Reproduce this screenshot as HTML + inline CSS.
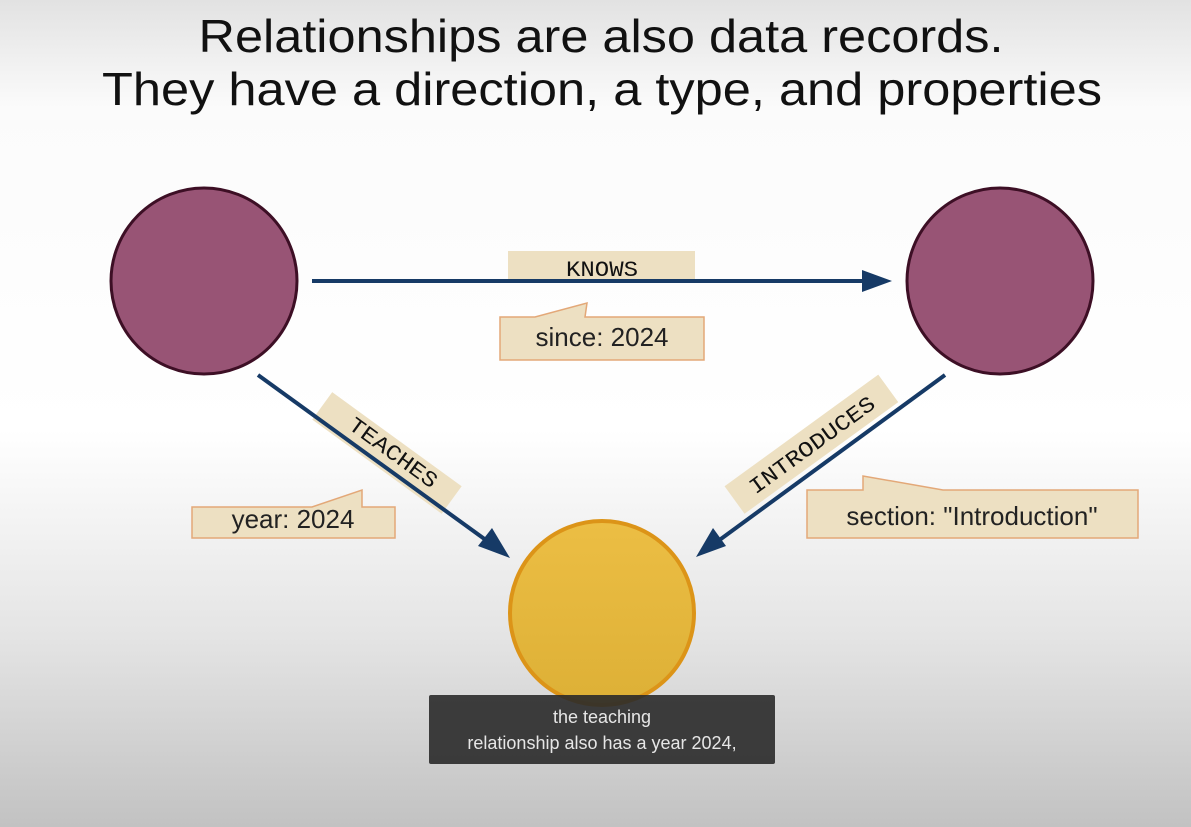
<!DOCTYPE html>
<html><head><meta charset="utf-8"><style>
html,body{margin:0;padding:0;width:1191px;height:827px;overflow:hidden}
</style></head><body>
<svg width="1191" height="827" viewBox="0 0 1191 827" xmlns="http://www.w3.org/2000/svg">
<defs>
<linearGradient id="bg" x1="0" y1="0" x2="0" y2="1">
<stop offset="0" stop-color="#e2e2e2"/>
<stop offset="0.13" stop-color="#fbfbfb"/>
<stop offset="0.52" stop-color="#ffffff"/>
<stop offset="0.77" stop-color="#e4e4e4"/>
<stop offset="1" stop-color="#c2c2c2"/>
</linearGradient>
<linearGradient id="yel" x1="0" y1="0" x2="0" y2="1">
<stop offset="0" stop-color="#ecbe44"/>
<stop offset="1" stop-color="#ddb036"/>
</linearGradient>
</defs>
<rect width="1191" height="827" fill="url(#bg)"/>
<g font-family="Liberation Sans, sans-serif" fill="#111" text-anchor="middle" font-size="46">
<text x="601" y="52" textLength="805" lengthAdjust="spacingAndGlyphs">Relationships are also data records.</text>
<text x="602" y="105" textLength="1000" lengthAdjust="spacingAndGlyphs">They have a direction, a type, and properties</text>
</g>
<circle cx="204" cy="281" r="93" fill="#985475" stroke="#3d0f25" stroke-width="3"/>
<circle cx="1000" cy="281" r="93" fill="#985475" stroke="#3d0f25" stroke-width="3"/>
<circle cx="602" cy="613" r="92" fill="url(#yel)" stroke="#dc9418" stroke-width="4"/>
<rect x="508" y="251" width="187" height="28" fill="#ede0c2"/>
<line x1="312" y1="281" x2="866" y2="281" stroke="#163a66" stroke-width="4"/>
<polygon points="892,281 862,270 862,292" fill="#163a66"/>
<text x="602" y="276" font-family="Liberation Mono, monospace" font-size="22" text-anchor="middle" fill="#111" textLength="72" lengthAdjust="spacingAndGlyphs">KNOWS</text>
<path d="M500,317 H535 L587,303 L585,317 H704 V360 H500 Z" fill="#ede0c2" stroke="#e3a878" stroke-width="1.5"/>
<text x="602" y="346" font-family="Liberation Sans, sans-serif" font-size="26" text-anchor="middle" fill="#222">since: 2024</text>
<g transform="translate(384,457) rotate(36)">
<rect x="-80" y="-22" width="160" height="34" fill="#ede0c2"/>
<text x="5" y="-2" font-family="Liberation Mono, monospace" font-size="22" text-anchor="middle" fill="#111" textLength="104" lengthAdjust="spacingAndGlyphs">TEACHES</text>
</g>
<line x1="258" y1="375" x2="490" y2="543" stroke="#163a66" stroke-width="4"/>
<polygon points="510,558 478,546 492,528" fill="#163a66"/>
<path d="M192,507 H312 L362,490 V507 H395 V538 H192 Z" fill="#ede0c2" stroke="#e3a878" stroke-width="1.5"/>
<text x="293" y="528" font-family="Liberation Sans, sans-serif" font-size="26" text-anchor="middle" fill="#222">year: 2024</text>
<g transform="translate(812,445) rotate(-36)">
<rect x="-95" y="-18" width="190" height="34" fill="#ede0c2"/>
<text x="0" y="7" font-family="Liberation Mono, monospace" font-size="22" text-anchor="middle" fill="#111" textLength="150" lengthAdjust="spacingAndGlyphs">INTRODUCES</text>
</g>
<line x1="945" y1="375" x2="714" y2="544" stroke="#163a66" stroke-width="4"/>
<polygon points="696,557 713,528 726,546" fill="#163a66"/>
<path d="M807,490 H863 V476 L943,490 H1138 V538 H807 Z" fill="#ede0c2" stroke="#e3a878" stroke-width="1.5"/>
<text x="972" y="525" font-family="Liberation Sans, sans-serif" font-size="26" text-anchor="middle" fill="#222">section: "Introduction"</text>
<rect x="429" y="695" width="346" height="69" rx="2" fill="#2a2a2a" fill-opacity="0.9"/>
<g font-family="Liberation Sans, sans-serif" font-size="18" fill="#e6e6e6" text-anchor="middle">
<text x="602" y="723">the teaching</text>
<text x="602" y="749">relationship also has a year 2024,</text>
</g>
</svg>
</body></html>
